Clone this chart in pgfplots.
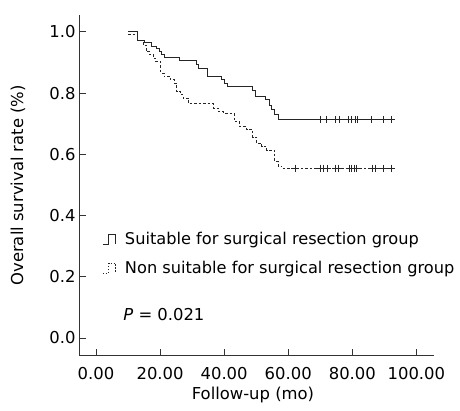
\documentclass[border=0pt]{standalone}
\usepackage{pgfplots}
\pgfplotsset{compat=1.18}
\usepackage{fontspec}
\setmainfont{DejaVu Sans}
\begin{document}
\begin{tikzpicture}
\useasboundingbox (-79pt,-54.3pt) rectangle (381pt,355.7pt);
\begin{axis}[
  scale only axis,
  width=355pt, height=340.7pt,
  xmin=-5.3, xmax=105.5,
  ymin=-0.058, ymax=1.055,
  axis x line*=bottom, axis y line*=left,
  axis line style={black!80, line width=0.8pt, -},
  xtick={0,20,40,60,80,100},
  ytick={0,0.2,0.4,0.6,0.8,1.0},
  xticklabels={0.00,20.00,40.00,60.00,80.00,100.00},
  yticklabels={0.0,0.2,0.4,0.6,0.8,1.0},
  tick align=inside,
  major tick length=7pt,
  tick style={black!80, line width=0.8pt},
  ticklabel style={font=\fontsize{16.4}{19}\selectfont},
  xticklabel style={yshift=-8pt},
  /pgf/number format/assume math mode=true,
  xlabel={Follow-up (mo)},
  ylabel={Overall survival rate (\%)},
  label style={font=\fontsize{16.4}{19}\selectfont},
  xlabel style={at={(axis description cs:0.49,-0.1153)}, anchor=center},
  ylabel style={at={(axis description cs:-0.172,0.5)}, anchor=center},
  legend cell align=left,
  legend style={draw=none, fill=none, at={(axis cs:1.87,0.352)}, anchor=north west,
    font=\fontsize{16.2}{19}\selectfont, row sep=11pt, inner sep=0pt, column sep=7pt},
]
\addplot[const plot, black!85, line width=0.8pt,
  legend image code/.code={\draw[black!85, line width=0.8pt] (0pt,-5pt) -- (6pt,-5pt) -- (6pt,5pt) -- (13pt,5pt) -- (13pt,-5pt);}]
coordinates {(10,1.0) (13,0.973) (15,0.965) (17.2,0.954) (18.9,0.945) (19.8,0.936) (20.5,0.927) (21.2,0.917) (26,0.906) (31.2,0.894) (31.9,0.881) (34.8,0.856) (39,0.843) (40,0.832) (41,0.821) (48.9,0.810) (49.9,0.789) (52.9,0.778) (54,0.761) (54.9,0.745) (55.6,0.729) (56.9,0.713) (92.8,0.713)};
\addlegendentry{Suitable for surgical resection group}
\addplot[const plot, black!85, line width=0.8pt, dash pattern=on 2.5pt off 2pt,
  legend image code/.code={\draw[black!85, line width=0.8pt, dash pattern=on 1.5pt off 1.5pt] (0pt,-5pt) -- (6pt,-5pt) -- (6pt,5pt) -- (13pt,5pt) -- (13pt,-5pt);}]
coordinates {(10,0.99) (13,0.973) (14.8,0.957) (15.6,0.936) (16.6,0.925) (17.9,0.914) (18.7,0.903) (20.2,0.865) (21.2,0.854) (23.1,0.843) (24.6,0.832) (25.2,0.805) (26.2,0.794) (27.2,0.783) (29,0.765) (36.8,0.751) (38.2,0.740) (39.7,0.734) (43.1,0.707) (44.9,0.691) (47,0.680) (48.9,0.656) (50.1,0.636) (51.7,0.625) (53.3,0.614) (55.8,0.576) (56.9,0.562) (57.9,0.555) (92.8,0.555)};
\addlegendentry{Non suitable for surgical resection group}
\addplot[only marks, mark=+, mark size=3.5pt, black!85, line width=0.7pt, forget plot]
coordinates {(69.9,0.713) (71.8,0.713) (74.6,0.713) (75.9,0.713) (78.7,0.713) (79.8,0.713) (80.8,0.713) (81.6,0.713) (86.0,0.713) (89.6,0.713) (92.3,0.713)};
\addplot[only marks, mark=+, mark size=3.5pt, black!85, line width=0.7pt, forget plot]
coordinates {(62.1,0.555) (69.9,0.555) (71.1,0.555) (72.2,0.555) (74.6,0.555) (75.6,0.555) (79.0,0.555) (79.8,0.555) (80.5,0.555) (81.3,0.555) (86.2,0.555) (87.1,0.555) (89.6,0.555) (92.3,0.555)};
\node[anchor=west, inner sep=0pt, font=\fontsize{16.4}{19}\selectfont] at (axis cs:8.5,0.078) {\textit{P} = 0.021};
\end{axis}
\end{tikzpicture}
\end{document}
